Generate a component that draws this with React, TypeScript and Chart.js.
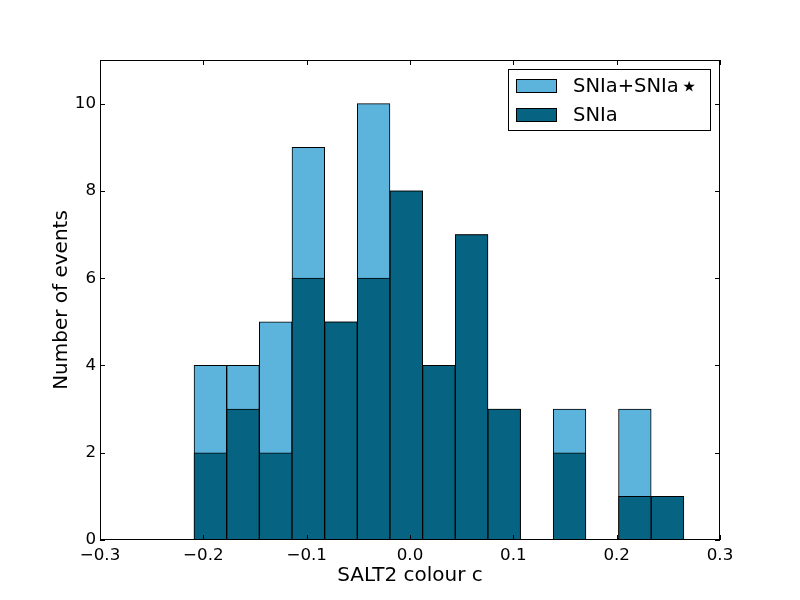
import { useEffect, useRef } from "react"
import { Chart, registerables } from "chart.js"

Chart.register(...registerables)

// bin centres of the histogram (SALT2 colour c)
const binCentres = [
  -0.1932, -0.1616, -0.13, -0.0984, -0.0668, -0.0352, -0.0036, 0.028, 0.0596, 0.0912, 0.1228, 0.1544, 0.186,
  0.2176, 0.2492,
]
// SNIa + SNIa* counts per bin
const countsAll = [4, 4, 5, 9, 5, 10, 8, 4, 7, 3, 0, 3, 0, 3, 1]
// SNIa only counts per bin
const countsSNIa = [2, 3, 2, 6, 5, 6, 8, 4, 7, 3, 0, 2, 0, 1, 1]

const xTicks = [-0.3, -0.2, -0.1, 0, 0.1, 0.2, 0.3]
const yTicks = [0, 2, 4, 6, 8, 10]

const STAR = "\u22c6"
const labelAll = "SNIa+SNIa" + STAR
const labelSNIa = "SNIa"
const colourAll = "#5cb4dc"
const colourSNIa = "#066482"

const FONT = "'DejaVu Sans', sans-serif"

// frame, inward ticks on all four sides, and the legend box in the top-right corner
const framePlugin = {
  id: "mplFrame",
  afterDatasetsDraw(chart: Chart) {
    const { ctx, chartArea } = chart
    const { left, right, top, bottom } = chartArea
    const xs = chart.scales.x
    const ys = chart.scales.y
    const tick = 5
    ctx.save()
    ctx.strokeStyle = "#000"
    ctx.lineWidth = 1
    ctx.beginPath()
    xTicks.forEach((v) => {
      const px = Math.round(xs.getPixelForValue(v)) + 0.5
      ctx.moveTo(px, bottom)
      ctx.lineTo(px, bottom - tick)
      ctx.moveTo(px, top)
      ctx.lineTo(px, top + tick)
    })
    yTicks.forEach((v) => {
      const py = Math.round(ys.getPixelForValue(v)) + 0.5
      ctx.moveTo(left, py)
      ctx.lineTo(left + tick, py)
      ctx.moveTo(right, py)
      ctx.lineTo(right - tick, py)
    })
    ctx.stroke()
    ctx.strokeRect(left + 0.5, top + 0.5, right - left - 1, bottom - top - 1)
    ctx.restore()
  },
  afterDraw(chart: Chart) {
    const { ctx, chartArea } = chart
    const boxW = 202
    const boxH = 61
    const bx = chartArea.right - 10 - boxW
    const by = chartArea.top + 9
    ctx.save()
    ctx.fillStyle = "#fff"
    ctx.fillRect(bx, by, boxW, boxH)
    ctx.strokeStyle = "#000"
    ctx.lineWidth = 1
    ctx.strokeRect(bx + 0.5, by + 0.5, boxW, boxH)
    const items = chart.data.datasets.map((d) => ({ label: d.label as string, colour: d.backgroundColor as string }))
    items.forEach((it, i) => {
      const rowY = by + 17 + i * 29
      ctx.fillStyle = it.colour
      ctx.fillRect(bx + 8, rowY - 7, 41, 14)
      ctx.strokeRect(bx + 8.5, rowY - 6.5, 40, 13)
      ctx.fillStyle = "#000"
      ctx.textBaseline = "middle"
      ctx.textAlign = "left"
      // the star glyph is drawn a little larger, like the mathtext star in the original
      const parts = it.label.split(STAR)
      ctx.font = `19.5px ${FONT}`
      ctx.fillText(parts[0], bx + 65, rowY + 1)
      if (parts.length > 1) {
        const w = ctx.measureText(parts[0]).width
        ctx.font = `30px ${FONT}`
        ctx.fillText(STAR, bx + 65 + w + 1, rowY + 2)
      }
    })
    ctx.restore()
  },
}

const fmtX = (v: number) => {
  if (Math.abs(v) < 1e-9) return "0.0"
  return (v < 0 ? "\u2212" : "") + Math.abs(v).toFixed(1)
}

export default function App() {
  const chartRef = useRef<HTMLCanvasElement | null>(null)
  const chartInstance = useRef<Chart | null>(null)

  useEffect(() => {
    if (!chartRef.current) return
    if (chartInstance.current) chartInstance.current.destroy()
    const ctx = chartRef.current.getContext("2d")
    if (!ctx) return

    chartInstance.current = new Chart(ctx, {
      type: "bar",
      data: {
        datasets: [
          {
            label: labelAll,
            data: binCentres.map((x, i) => ({ x, y: countsAll[i] === 0 ? null : countsAll[i] })),
            backgroundColor: colourAll,
            borderColor: "#000",
            borderWidth: 1,
            borderSkipped: false,
            order: 1,
          },
          {
            label: labelSNIa,
            data: binCentres.map((x, i) => ({ x, y: countsSNIa[i] === 0 ? null : countsSNIa[i] })),
            backgroundColor: colourSNIa,
            borderColor: "#000",
            borderWidth: 1,
            borderSkipped: false,
            order: 0,
          },
        ] as any,
      },
      plugins: [framePlugin],
      options: {
        animation: false,
        responsive: true,
        maintainAspectRatio: false,
        devicePixelRatio: 1,
        grouped: false,
        categoryPercentage: 1,
        barPercentage: 1,
        layout: { padding: { top: 60, right: 80, left: 0, bottom: 0 } },
        scales: {
          x: {
            type: "linear",
            min: -0.3,
            max: 0.3,
            offset: false,
            grid: { display: false, drawTicks: false },
            border: { display: false },
            afterFit: (s: any) => {
              s.height = 60
            },
            afterBuildTicks: (s: any) => {
              s.ticks = xTicks.map((v) => ({ value: v }))
            },
            ticks: {
              padding: 6,
              color: "#000",
              maxRotation: 0,
              autoSkip: false,
              font: { family: FONT, size: 16.7 },
              callback: (v: any) => fmtX(Number(v)),
            },
            title: {
              display: true,
              text: "SALT2 colour c",
              color: "#000",
              font: { family: FONT, size: 20 },
              padding: { top: 0, bottom: 12 },
            },
          },
          y: {
            min: 0,
            max: 11,
            grid: { display: false, drawTicks: false },
            border: { display: false },
            afterFit: (s: any) => {
              s.width = 100
            },
            afterBuildTicks: (s: any) => {
              s.ticks = yTicks.map((v) => ({ value: v }))
            },
            ticks: {
              padding: 4,
              color: "#000",
              font: { family: FONT, size: 16.7 },
            },
            title: {
              display: true,
              text: "Number of events",
              color: "#000",
              font: { family: FONT, size: 20 },
              padding: { top: 50, bottom: 0 },
            },
          },
        },
        plugins: {
          legend: { display: false },
          tooltip: { enabled: false },
        },
      },
    } as any)

    return () => {
      if (chartInstance.current) {
        chartInstance.current.destroy()
        chartInstance.current = null
      }
    }
  }, [])

  return (
    <div style={{ position: "absolute", left: 0, top: 0, width: 800, height: 600, background: "#fff" }}>
      <canvas ref={chartRef} />
    </div>
  )
}
